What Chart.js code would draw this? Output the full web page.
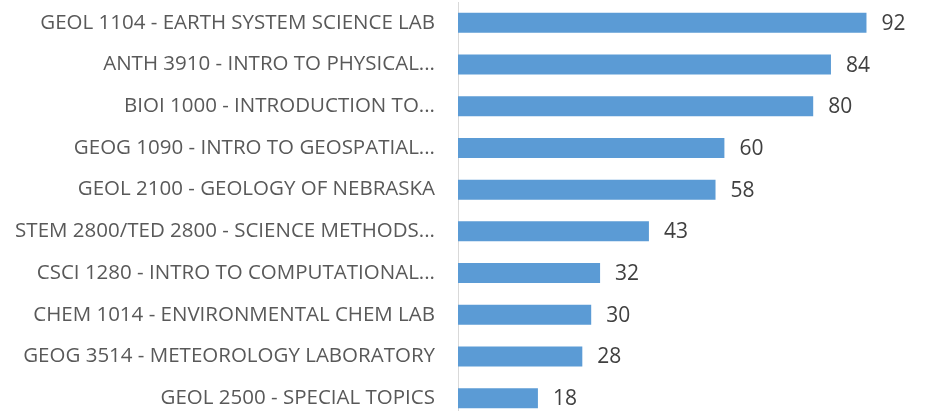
<!DOCTYPE html>
<html>
<head>
<meta charset="utf-8">
<script src="https://cdn.jsdelivr.net/npm/chart.js@4"></script>
<style>
  html, body { margin: 0; padding: 0; background: #fff; overflow: hidden; height: 411px; }
  #wrap { width: 928px; height: 420px; }
</style>
</head>
<body>
<div id="wrap"><canvas id="myChart" width="928" height="420"></canvas></div>
<script>
var courses = [
  "GEOL 1104 - EARTH SYSTEM SCIENCE LAB",
  "ANTH 3910 - INTRO TO PHYSICAL...",
  "BIOI 1000 - INTRODUCTION TO...",
  "GEOG 1090 - INTRO TO GEOSPATIAL...",
  "GEOL 2100 - GEOLOGY OF NEBRASKA",
  "STEM 2800/TED 2800 - SCIENCE METHODS...",
  "CSCI 1280 - INTRO TO COMPUTATIONAL...",
  "CHEM 1014 - ENVIRONMENTAL CHEM LAB",
  "GEOG 3514 - METEOROLOGY LABORATORY",
  "GEOL 2500 - SPECIAL TOPICS"
];
var enrolled = [92, 84, 80, 60, 58, 43, 32, 30, 28, 18];

var fontFamily = "'Open Sans', sans-serif";

// draws the number at the end of each bar
var valueLabels = {
  id: 'valueLabels',
  afterDatasetsDraw: function(chart) {
    var ctx = chart.ctx;
    var meta = chart.getDatasetMeta(0);
    ctx.save();
    ctx.font = '21px ' + fontFamily;
    ctx.fillStyle = '#404040';
    ctx.textAlign = 'left';
    ctx.textBaseline = 'middle';
    meta.data.forEach(function(bar, i) {
      ctx.fillText(enrolled[i], bar.x + 15, bar.y + 1);
    });
    ctx.restore();
  }
};

var ctx = document.getElementById('myChart').getContext('2d');
var myChart = new Chart(ctx, {
  type: 'bar',
  data: {
    labels: courses,
    datasets: [{
      data: enrolled,
      backgroundColor: '#5b9bd5',
      borderWidth: 0,
      barPercentage: 0.48,
      categoryPercentage: 1
    }]
  },
  options: {
    indexAxis: 'y',
    responsive: false,
    animation: false,
    layout: { padding: { top: 2, bottom: 1, right: 26, left: 0 } },
    plugins: {
      legend: { display: false },
      tooltip: { enabled: false }
    },
    scales: {
      x: {
        display: false,
        min: 0,
        max: 100
      },
      y: {
        grid: { display: false, drawTicks: false },
        border: { color: '#d9d9d9', width: 1 },
        ticks: {
          color: '#595959',
          padding: 23,
          font: { family: fontFamily, size: 20.5 }
        },
        afterFit: function(scale) {
          scale.width = 458;
          scale.paddingTop = 0;
          scale.paddingBottom = 0;
        }
      }
    }
  },
  plugins: [valueLabels]
});
</script>
</body>
</html>
